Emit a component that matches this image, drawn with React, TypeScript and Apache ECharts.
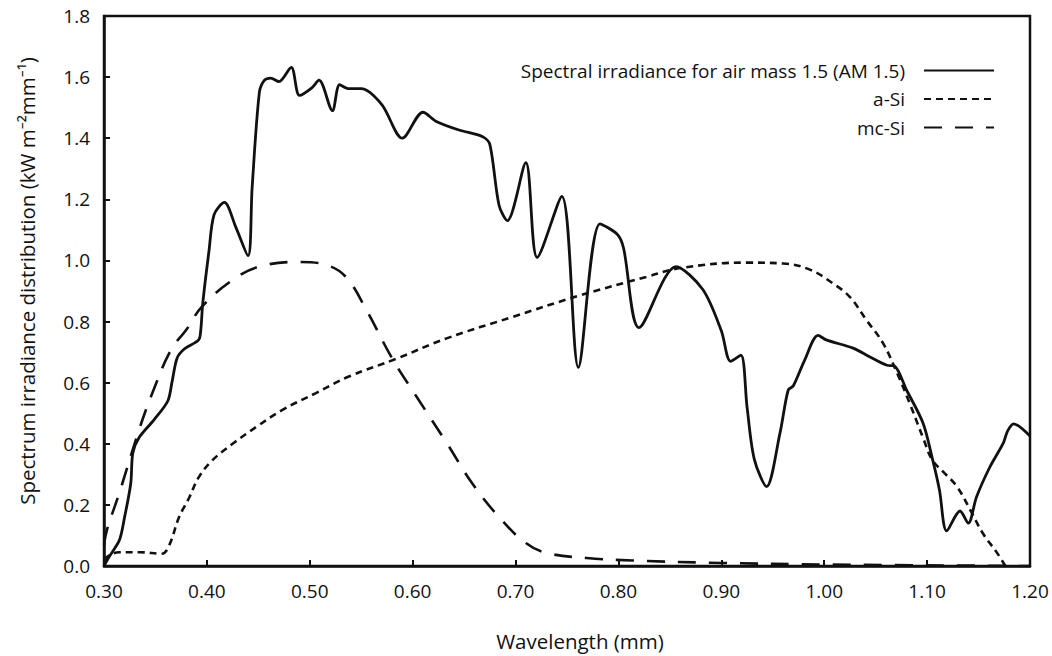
import React, { useEffect, useRef } from "react";
import * as echarts from "echarts";

const xTicks = [0.3, 0.4, 0.5, 0.6, 0.7, 0.8, 0.9, 1.0, 1.1, 1.2];
const yTicks = [0, 0.2, 0.4, 0.6, 0.8, 1.0, 1.2, 1.4, 1.6, 1.8];

const seriesNames = ["Spectral irradiance for air mass 1.5 (AM 1.5)", "a-Si", "mc-Si"];

const amX = [0.300, 0.305, 0.315, 0.320, 0.326, 0.328, 0.334, 0.349, 0.362, 0.366, 0.371, 0.378, 0.392, 0.394, 0.396, 0.402, 0.407, 0.417, 0.428, 0.440, 0.444, 0.451, 0.456, 0.462, 0.470, 0.482, 0.490, 0.502, 0.509, 0.522, 0.529, 0.538, 0.550, 0.570, 0.590, 0.610, 0.623, 0.645, 0.668, 0.675, 0.684, 0.692, 0.710, 0.721, 0.745, 0.761, 0.782, 0.799, 0.805, 0.820, 0.856, 0.882, 0.900, 0.909, 0.919, 0.925, 0.932, 0.944, 0.957, 0.965, 0.970, 0.981, 0.994, 1.002, 1.028, 1.044, 1.061, 1.068, 1.080, 1.096, 1.105, 1.112, 1.119, 1.132, 1.140, 1.148, 1.161, 1.174, 1.178, 1.184, 1.200];
const amY = [0.00, 0.03, 0.085, 0.16, 0.27, 0.37, 0.42, 0.48, 0.54, 0.60, 0.68, 0.71, 0.74, 0.77, 0.86, 1.03, 1.15, 1.19, 1.11, 1.015, 1.24, 1.55, 1.59, 1.597, 1.585, 1.632, 1.54, 1.565, 1.59, 1.49, 1.575, 1.562, 1.562, 1.51, 1.40, 1.485, 1.455, 1.427, 1.405, 1.38, 1.18, 1.13, 1.32, 1.01, 1.21, 0.65, 1.12, 1.085, 1.04, 0.78, 0.98, 0.905, 0.77, 0.67, 0.69, 0.52, 0.35, 0.26, 0.435, 0.576, 0.59, 0.674, 0.755, 0.74, 0.713, 0.685, 0.657, 0.655, 0.576, 0.468, 0.353, 0.249, 0.115, 0.18, 0.14, 0.226, 0.324, 0.402, 0.44, 0.465, 0.425];

const aSiX = [0.300, 0.305, 0.315, 0.335, 0.356, 0.363, 0.373, 0.383, 0.392, 0.405, 0.425, 0.448, 0.473, 0.506, 0.538, 0.584, 0.633, 0.697, 0.762, 0.827, 0.860, 0.925, 0.960, 0.986, 1.008, 1.025, 1.041, 1.057, 1.071, 1.083, 1.096, 1.105, 1.116, 1.129, 1.142, 1.154, 1.168, 1.176];
const aSiY = [0.02, 0.035, 0.045, 0.045, 0.04, 0.065, 0.16, 0.225, 0.29, 0.345, 0.40, 0.455, 0.51, 0.566, 0.62, 0.678, 0.745, 0.815, 0.885, 0.946, 0.975, 0.993, 0.99, 0.97, 0.926, 0.88, 0.805, 0.73, 0.63, 0.533, 0.42, 0.347, 0.307, 0.26, 0.183, 0.108, 0.043, 0.0];

const mcX = [0.300, 0.303, 0.315, 0.334, 0.347, 0.365, 0.380, 0.395, 0.425, 0.451, 0.490, 0.516, 0.535, 0.555, 0.580, 0.604, 0.633, 0.658, 0.684, 0.710, 0.730, 0.769, 0.814, 0.900, 1.000, 1.200];
const mcY = [0.07, 0.12, 0.24, 0.445, 0.566, 0.707, 0.773, 0.848, 0.936, 0.98, 0.995, 0.985, 0.946, 0.838, 0.68, 0.553, 0.403, 0.27, 0.16, 0.075, 0.043, 0.026, 0.018, 0.01, 0.005, 0.0];

const pairs = (xs: number[], ys: number[]) => xs.map((x, i) => [x, ys[i]]);

const FONT = "'Open Sans', 'Noto Sans', sans-serif";
const INK = "#111111";

export default function App() {
  const ref = useRef<HTMLDivElement>(null);
  useEffect(() => {
    if (!ref.current) return;
    const chart = echarts.init(ref.current, null, { renderer: "svg" });
    chart.setOption({
      animation: false,
      backgroundColor: "#ffffff",
      textStyle: { fontFamily: FONT, color: INK },
      grid: {
        left: 104,
        right: 22,
        top: 16,
        bottom: 90,
        show: true,
        borderColor: INK,
        borderWidth: 2.5,
        backgroundColor: "transparent",
      },
      legend: {
        orient: "vertical",
        right: 52,
        top: 56,
        align: "right",
        itemWidth: 70,
        itemHeight: 14,
        itemGap: 9.5,
        data: seriesNames,
        itemStyle: { color: "rgba(0,0,0,0)", borderWidth: 0, opacity: 0 },
        textStyle: {
          fontFamily: FONT,
          fontSize: 19,
          color: INK,
          padding: [0, 14, 0, 0],
        },
      },
      xAxis: {
        type: "value",
        min: xTicks[0],
        max: xTicks[xTicks.length - 1],
        interval: 0.1,
        name: "Wavelength (mm)",
        nameLocation: "middle",
        nameGap: 64,
        nameTextStyle: { fontFamily: FONT, fontSize: 20.5, color: INK, padding: [0, 0, 0, 26] },
        axisLine: { show: true, lineStyle: { color: INK, width: 2.5 } },
        axisTick: { show: true, inside: true, length: 6, lineStyle: { color: INK, width: 2 } },
        splitLine: { show: false },
        axisLabel: {
          fontFamily: FONT,
          fontSize: 19,
          color: INK,
          margin: 15,
          formatter: (v: number) => v.toFixed(2),
        },
      },
      yAxis: {
        type: "value",
        min: yTicks[0],
        max: yTicks[yTicks.length - 1],
        interval: 0.2,
        name: "Spectrum irradiance distribution (kW m\u207B\u00B2mm\u207B\u00B9)",
        nameLocation: "middle",
        nameGap: 67,
        nameTextStyle: { fontFamily: FONT, fontSize: 20.5, color: INK, padding: [0, 0, 0, 20] },
        axisLine: { show: true, lineStyle: { color: INK, width: 2.5 } },
        axisTick: { show: true, inside: true, length: 6, lineStyle: { color: INK, width: 2 } },
        splitLine: { show: false },
        axisLabel: {
          fontFamily: FONT,
          fontSize: 19,
          color: INK,
          margin: 14,
          formatter: (v: number) => v.toFixed(1),
        },
      },
      series: [
        {
          name: seriesNames[0],
          type: "line",
          data: pairs(amX, amY),
          smooth: 0.3,
          symbol: "none",
          lineStyle: { color: INK, width: 2.8, type: "solid" },
          itemStyle: { color: INK },
          z: 3,
        },
        {
          name: seriesNames[1],
          type: "line",
          data: pairs(aSiX, aSiY),
          smooth: 0.4,
          symbol: "none",
          lineStyle: { color: INK, width: 2.6, type: [7, 5] },
          itemStyle: { color: INK },
          z: 2,
        },
        {
          name: seriesNames[2],
          type: "line",
          data: pairs(mcX, mcY),
          smooth: 0.4,
          symbol: "none",
          lineStyle: { color: INK, width: 2.6, type: [18, 13] },
          itemStyle: { color: INK },
          z: 2,
        },
      ],
    });
    return () => chart.dispose();
  }, []);
  return (
    <div
      ref={ref}
      style={{ position: "fixed", left: 0, top: 0, width: 1052, height: 656, background: "#fff" }}
    />
  );
}
